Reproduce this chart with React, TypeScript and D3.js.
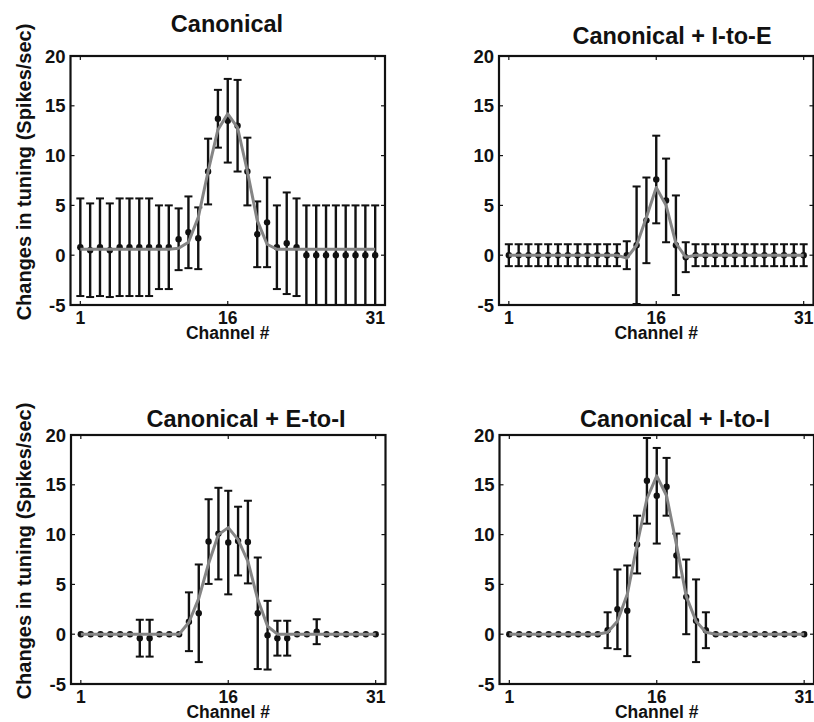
import React from 'react';
import * as d3 from 'd3';

// channel numbers on the x axis
const channels = [1, 2, 3, 4, 5, 6, 7, 8, 9, 10, 11, 12, 13, 14, 15, 16, 17, 18, 19, 20, 21, 22, 23, 24, 25, 26, 27, 28, 29, 30, 31];
const xTicks = [1, 16, 31];
const yTicks = [-5, 0, 5, 10, 15, 20];

// Canonical
const canonVals = [0.8, 0.5, 0.8, 0.5, 0.8, 0.8, 0.8, 0.8, 0.8, 0.8, 1.6, 2.3, 1.7, 8.4, 13.7, 13.5, 13.0, 8.4, 2.1, 3.3, 0.8, 1.2, 0.8, 0, 0, 0, 0, 0, 0, 0, 0];
const canonErr = [4.9, 4.7, 4.9, 4.7, 4.9, 4.9, 4.9, 4.9, 4.2, 4.2, 3.1, 3.6, 3.1, 3.3, 2.9, 4.2, 4.6, 3.4, 3.3, 4.5, 4.2, 5.1, 4.9, 5, 5, 5, 5, 5, 5, 5, 5];
const canonFit = [0.6, 0.6, 0.6, 0.6, 0.6, 0.6, 0.6, 0.6, 0.6, 0.6, 0.7, 1.3, 3.8, 8.4, 12.6, 14.2, 12.8, 8.4, 3.5, 1.1, 0.6, 0.6, 0.6, 0.6, 0.6, 0.6, 0.6, 0.6, 0.6, 0.6, 0.6];

// Canonical + I-to-E
const ieVals = [0, 0, 0, 0, 0, 0, 0, 0, 0, 0, 0, 0, 0, 1.0, 3.5, 7.6, 5.5, 1.0, -0.2, 0, 0, 0, 0, 0, 0, 0, 0, 0, 0, 0, 0];
const ieErr = [1.1, 1.1, 1.1, 1.1, 1.1, 1.1, 1.1, 1.1, 1.1, 1.1, 1.1, 1.1, 1.4, 5.9, 4.3, 4.4, 4.2, 5.0, 1.5, 1.1, 1.1, 1.1, 1.1, 1.1, 1.1, 1.1, 1.1, 1.1, 1.1, 1.1, 1.1];
const ieFit = [0, 0, 0, 0, 0, 0, 0, 0, 0, 0, 0, 0, -0.3, 1.0, 3.8, 6.8, 5.0, 1.2, -0.2, 0, 0, 0, 0, 0, 0, 0, 0, 0, 0, 0, 0];

// Canonical + E-to-I
const eiVals = [0, 0, 0, 0, 0, 0, -0.4, -0.4, 0, 0, 0, 1.25, 2.1, 9.3, 10.1, 9.2, 9.35, 9.25, 2.1, -0.1, -0.4, -0.4, 0, 0, 0.25, 0, 0, 0, 0, 0, 0];
const eiErr = [0, 0, 0, 0, 0, 0, 1.85, 1.85, 0, 0, 0, 2.95, 4.9, 4.25, 4.6, 5.2, 3.45, 4.15, 5.6, 3.45, 1.75, 1.75, 0, 0, 1.25, 0, 0, 0, 0, 0, 0];
const eiFit = [0, 0, 0, 0, 0, 0, 0, 0, 0, 0, 0, 1.2, 3.6, 7.1, 10.0, 10.7, 9.5, 7.3, 3.5, 0.8, 0, 0, 0, 0, 0, 0, 0, 0, 0, 0, 0];

// Canonical + I-to-I
const iiVals = [0, 0, 0, 0, 0, 0, 0, 0, 0, 0, 0.4, 2.5, 2.35, 9.0, 15.4, 13.9, 14.8, 7.9, 3.75, 1.35, 0.4, 0, 0, 0, 0, 0, 0, 0, 0, 0, 0];
const iiErr = [0, 0, 0, 0, 0, 0, 0, 0, 0, 0, 1.8, 4.0, 4.55, 2.9, 4.3, 4.8, 2.9, 2.2, 3.75, 4.15, 1.8, 0, 0, 0, 0, 0, 0, 0, 0, 0, 0];
const iiFit = [0, 0, 0, 0, 0, 0, 0, 0, 0, 0, 0.2, 1.3, 4.0, 9.0, 13.6, 15.9, 13.9, 9.0, 3.8, 1.3, 0.2, 0, 0, 0, 0, 0, 0, 0, 0, 0, 0];

const FONT = '"Liberation Sans", Arial, Helvetica, sans-serif';
const INK = '#111';

function Panel({ left, top, title, titleX, titleY, values, errs, fit }) {
  const w = 314.5;
  const h = 249;
  const x = d3.scaleLinear().domain([0, 32]).range([left, left + w]);
  const y = d3.scaleLinear().domain([-5, 20]).range([top + h, top]);
  const line = d3
    .line<number>()
    .x((d, i) => x(channels[i]))
    .y(d => y(d));

  return (
    <g>
      <text x={titleX} y={titleY} textAnchor="middle" fontFamily={FONT} fontWeight="bold" fontSize={23.5} fill={INK}>
        {title}
      </text>

      {/* error bars */}
      {channels.map((c, i) =>
        errs[i] > 0 ? (
          <g key={'e' + c} stroke={INK}>
            <line x1={x(c)} x2={x(c)} y1={y(values[i] - errs[i])} y2={y(values[i] + errs[i])} strokeWidth={2.4} />
            <line x1={x(c) - 4} x2={x(c) + 4} y1={y(values[i] + errs[i])} y2={y(values[i] + errs[i])} strokeWidth={2} />
            <line x1={x(c) - 4} x2={x(c) + 4} y1={y(values[i] - errs[i])} y2={y(values[i] - errs[i])} strokeWidth={2} />
          </g>
        ) : null
      )}

      {channels.map((c, i) => (
        <circle key={'p' + c} cx={x(c)} cy={y(values[i])} r={3.2} fill={INK} />
      ))}

      <path d={line(fit) || ''} fill="none" stroke="#858585" strokeWidth={3} strokeLinejoin="round" />

      {/* frame */}
      <rect x={left} y={top} width={w} height={h} fill="none" stroke={INK} strokeWidth={2.2} />

      {yTicks.map(t => (
        <g key={'y' + t}>
          <line x1={left} x2={left + 4} y1={y(t)} y2={y(t)} stroke={INK} strokeWidth={1.2} />
          <line x1={left + w - 4} x2={left + w} y1={y(t)} y2={y(t)} stroke={INK} strokeWidth={1.2} />
          <text x={left - 5} y={y(t)} dy="0.36em" textAnchor="end" fontFamily={FONT} fontWeight="bold" fontSize={18.5} fill={INK}>
            {t}
          </text>
        </g>
      ))}

      {xTicks.map(t => (
        <g key={'x' + t}>
          <line x1={x(t)} x2={x(t)} y1={top + h} y2={top + h - 4} stroke={INK} strokeWidth={1.2} />
          <line x1={x(t)} x2={x(t)} y1={top} y2={top + 4} stroke={INK} strokeWidth={1.2} />
          <text x={x(t)} y={top + h + 19} textAnchor="middle" fontFamily={FONT} fontWeight="bold" fontSize={17.5} fill={INK}>
            {t}
          </text>
        </g>
      ))}

      <text x={left + w / 2} y={top + h + 34} textAnchor="middle" fontFamily={FONT} fontWeight="bold" fontSize={17.5} fill={INK}>
        Channel #
      </text>
    </g>
  );
}

export default function App() {
  return (
    <svg width={814} height={722} style={{ position: 'absolute', left: 0, top: 0, background: '#fff' }}>
      <Panel left={70.5} top={56} title="Canonical" titleX={227} titleY={32} values={canonVals} errs={canonErr} fit={canonFit} />
      <Panel left={499} top={56} title="Canonical + I-to-E" titleX={672} titleY={44} values={ieVals} errs={ieErr} fit={ieFit} />
      <Panel left={71} top={435} title="Canonical + E-to-I" titleX={246} titleY={427} values={eiVals} errs={eiErr} fit={eiFit} />
      <Panel left={499.5} top={435} title="Canonical + I-to-I" titleX={675} titleY={427} values={iiVals} errs={iiErr} fit={iiFit} />

      <text transform="translate(31,172) rotate(-90)" textAnchor="middle" fontFamily={FONT} fontWeight="bold" fontSize={20} fill={INK}>
        Changes in tuning (Spikes/sec)
      </text>
      <text transform="translate(31,551) rotate(-90)" textAnchor="middle" fontFamily={FONT} fontWeight="bold" fontSize={20} fill={INK}>
        Changes in tuning (Spikes/sec)
      </text>
    </svg>
  );
}
